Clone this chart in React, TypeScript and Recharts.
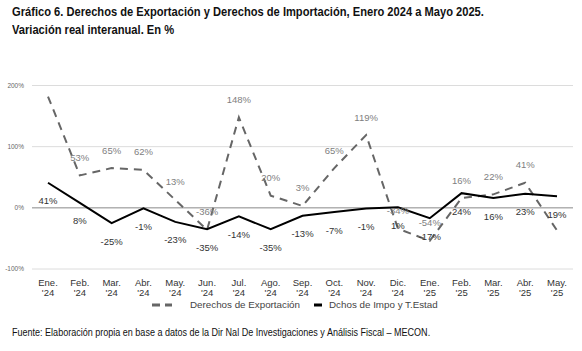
import { LineChart, Line, XAxis, YAxis, CartesianGrid, ReferenceLine, LabelList } from 'recharts';

const months = ['Ene.', 'Feb.', 'Mar.', 'Abr.', 'May.', 'Jun.', 'Jul.', 'Ago.', 'Sep.', 'Oct.', 'Nov.', 'Dic.', 'Ene.', 'Feb.', 'Mar.', 'Abr.', 'May.'];
const years = ["'24", "'24", "'24", "'24", "'24", "'24", "'24", "'24", "'24", "'24", "'24", "'24", "'25", "'25", "'25", "'25", "'25"];
const exportacion = [182, 53, 65, 62, 13, -36, 148, 20, 3, 65, 119, -34, -54, 16, 22, 41, -37];
const importacion = [41, 8, -25, -1, -23, -35, -14, -35, -13, -7, -1, 1, -17, 24, 16, 23, 19];
const yTicks = [-100, 0, 100, 200];

const data = months.map((m, i) => ({
  key: `${m} ${years[i]}`,
  month: m,
  year: years[i],
  exp: exportacion[i],
  imp: importacion[i],
}));

const FONT = '"Liberation Sans", Arial, sans-serif';

function MonthTick({ x, y, payload }: any) {
  const d = data[payload.index];
  return (
    <g transform={`translate(${x},${y})`}>
      <text textAnchor="middle" fontSize={9.5} fill="#333" fontFamily={FONT}>
        <tspan x={0} dy={9}>{d.month}</tspan>
        <tspan x={0} dy={10}>{d.year}</tspan>
      </text>
    </g>
  );
}

function pctLabel(dy: number, color: string, skip: number[]) {
  return (props: any) => {
    const { x, y, value, index } = props;
    if (skip.includes(index)) return null;
    return (
      <text x={x} y={y + dy} textAnchor="middle" dominantBaseline="central" fontSize={9.5} fill={color} fontFamily={FONT}>
        {`${value}%`}
      </text>
    );
  };
}

export default function App() {
  return (
    <div style={{ position: 'fixed', left: 0, top: 0, width: 582, height: 351, background: '#fff', overflow: 'hidden' }}>
      <div
        style={{
          position: 'absolute',
          left: 12,
          top: 3,
          fontFamily: FONT,
          fontWeight: 700,
          fontSize: 13,
          lineHeight: '18px',
          color: '#111',
          whiteSpace: 'nowrap',
          transform: 'scaleX(0.856)',
          transformOrigin: 'left top',
        }}
      >
        Gráfico 6. Derechos de Exportación y Derechos de Importación, Enero 2024 a Mayo 2025.
        <br />
        Variación real interanual. En %
      </div>

      <div style={{ position: 'absolute', left: 0, top: 0 }}>
        <LineChart width={582} height={300} data={data} margin={{ top: 85.5, right: 9, bottom: 6, left: 2 }}>
          <CartesianGrid vertical={false} stroke="#dcdcdc" strokeWidth={1} />
          <XAxis
            dataKey="key"
            axisLine={false}
            tickLine={false}
            interval={0}
            height={25}
            padding={{ left: 16, right: 16 }}
            tick={<MonthTick />}
          />
          <YAxis
            domain={[-100, 200]}
            ticks={yTicks}
            width={30}
            axisLine={false}
            tickLine={false}
            tickFormatter={(v: number) => `${v}%`}
            tick={{ fontSize: 6.5, fill: '#666', fontFamily: FONT }}
          />
          <ReferenceLine y={0} stroke="#999" strokeWidth={1} />
          <Line
            type="linear"
            dataKey="exp"
            stroke="#666"
            strokeWidth={2}
            strokeDasharray="8 6"
            dot={false}
            isAnimationActive={false}
          >
            <LabelList dataKey="exp" content={pctLabel(-18, '#808080', [0, 16])} />
          </Line>
          <Line
            type="linear"
            dataKey="imp"
            stroke="#000"
            strokeWidth={2}
            dot={false}
            isAnimationActive={false}
          >
            <LabelList dataKey="imp" content={pctLabel(18, '#333', [])} />
          </Line>
        </LineChart>
      </div>

      <div style={{ position: 'absolute', left: 152, top: 299, display: 'flex', alignItems: 'center', fontFamily: FONT, fontSize: 9.8, color: '#444', whiteSpace: 'nowrap' }}>
        <svg width={20} height={6} style={{ marginRight: 18 }}>
          <line x1={0} y1={3} x2={20} y2={3} stroke="#666" strokeWidth={3} strokeDasharray="8 5" />
        </svg>
        <span>Derechos de Exportación</span>
        <svg width={8} height={6} style={{ marginLeft: 14, marginRight: 7 }}>
          <line x1={0} y1={3} x2={8} y2={3} stroke="#000" strokeWidth={3} />
        </svg>
        <span>Dchos de Impo y T.Estad</span>
      </div>

      <div
        style={{
          position: 'absolute',
          left: 12,
          top: 326,
          fontFamily: FONT,
          fontSize: 11,
          color: '#111',
          whiteSpace: 'nowrap',
          transform: 'scaleX(0.82)',
          transformOrigin: 'left top',
        }}
      >
        Fuente: Elaboración propia en base a datos de la Dir Nal De Investigaciones y Análisis Fiscal – MECON.
      </div>
    </div>
  );
}
